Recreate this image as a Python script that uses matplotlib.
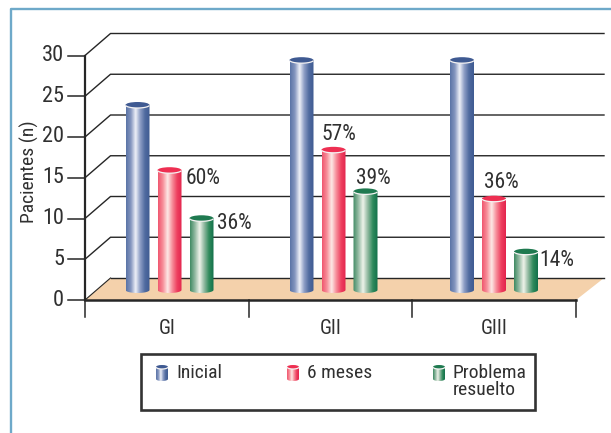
import matplotlib
matplotlib.use("Agg")
import matplotlib.pyplot as plt
import numpy as np
from matplotlib.colors import LinearSegmentedColormap
from matplotlib.patches import Ellipse, PathPatch, Polygon, Rectangle
from matplotlib.path import Path

plt.rcParams["font.family"] = ["Roboto Condensed", "Archivo Narrow", "Liberation Sans", "DejaVu Sans"]

groups = ["GI", "GII", "GIII"]
series = ["Inicial", "6 meses", "Problema\nresuelto"]
inicial = [22.7, 28.2, 28.2]
seis_meses = [14.7, 17.2, 11.2]
resuelto = [8.8, 12.1, 4.7]
pct_seis = ["60%", "57%", "36%"]
pct_resuelto = ["36%", "39%", "14%"]
y_ticks = [0, 5, 10, 15, 20, 25, 30]

# side colours of each cylinder, left to right
blue = ["#5a73a6", "#8496bf", "#eef0f8", "#8c9dc4", "#4f6a9f", "#3f5b92"]
red = ["#f0566f", "#f78d98", "#fde9e6", "#f78d9a", "#ee4060", "#e3244d"]
green = ["#3f8a63", "#90b8a0", "#eef3ea", "#8fb89f", "#2f8a5c", "#12704a"]
tops = ["#3f5a92", "#ee2f52", "#1f7a50"]
text_col = "#303030"
line_col = "#262626"

W, H = 611, 433
fig = plt.figure(figsize=(W / 100, H / 100), dpi=100, facecolor="white")

# overlay in pixel units for the page frame and the legend box
page = fig.add_axes([0, 0, 1, 1])
page.set_xlim(0, W)
page.set_ylim(H, 0)
page.axis("off")
page.plot([11, 11, W], [H, 8.5, 8.5], color="#6ea9c9", lw=1.7)

ax = fig.add_axes([85 / W, (H - 300) / H, 491 / W, 244.5 / H])
ax.set_xlim(0, 3)
ax.set_ylim(0, 30)
ax.axis("off")

px_x = 3 / 491
px_y = 30 / 244.5
depth_x = 25.5 * px_x
depth_y = 22 * px_y


def cylinder(axis, xc, y0, y1, half_w, half_h, colors, top, z=3):
    cmap = LinearSegmentedColormap.from_list("cyl", colors)
    grad = np.linspace(0, 1, 128).reshape(1, -1)
    im = axis.imshow(grad, cmap=cmap, extent=[xc - half_w, xc + half_w, y0 - half_h, y1],
                     aspect="auto", interpolation="bilinear", zorder=z)
    n = 40
    t = np.linspace(np.pi, 2 * np.pi, n)
    verts = [(xc - half_w, y1)] + list(zip(xc + half_w * np.cos(t), y0 + half_h * np.sin(t)))
    verts += [(xc + half_w, y1), (xc - half_w, y1)]
    codes = [Path.MOVETO] + [Path.LINETO] * (len(verts) - 2) + [Path.CLOSEPOLY]
    body = PathPatch(Path(verts, codes), transform=axis.transData, fc="none", ec="none")
    axis.add_patch(body)
    im.set_clip_path(body)
    axis.add_patch(Ellipse((xc, y1), 2 * half_w, 2 * abs(half_h), fc=top, ec="none", zorder=z + 1))
    # light rim under the lid
    t = np.linspace(np.pi * 1.08, np.pi * 1.92, 30)
    axis.plot(xc + half_w * np.cos(t), y1 + half_h * np.sin(t), color="#f4f2f2", lw=0.9,
              zorder=z + 2, solid_capstyle="round")


# floor and receding grid
ax.add_patch(Polygon([(0, 0), (depth_x, depth_y), (3 + 28 * px_x, depth_y), (3, 0)],
                     fc="#f4d1ab", ec="none", zorder=1, clip_on=False))
for v in y_ticks:
    ax.plot([0, depth_x, 3 + 28 * px_x] if v else [depth_x, 3 + 28 * px_x],
            [v, v + depth_y, v + depth_y] if v else [depth_y, depth_y],
            color=line_col, lw=1.0, zorder=2, clip_on=False)
ax.plot([0, depth_x], [0, depth_y], color=line_col, lw=0.8, zorder=2, clip_on=False)

# axes lines and ticks
ax.plot([0, 0], [0, 30], color=line_col, lw=1.6, zorder=6, clip_on=False)
ax.plot([0, 3], [0, 0], color=line_col, lw=1.8, zorder=6, clip_on=False)
for v in y_ticks:
    ax.plot([-17 * px_x, 0], [v, v], color=line_col, lw=1.1, zorder=6, clip_on=False)
    ax.text(-21 * px_x, v, str(v), ha="right", va="center", fontsize=16, color=text_col)
for i in range(4):
    ax.plot([i, i], [0, -17 * px_y], color=line_col, lw=1.1, zorder=6, clip_on=False)
for i, g in enumerate(groups):
    ax.text(i + 0.5, -28 * px_y, g, ha="center", va="center", fontsize=14.5, color=text_col)
ax.text(-56 * px_x, 15.7, "Pacientes (n)", rotation=90, ha="center", va="center",
        fontsize=14, color=text_col)

# cylinders
base = 10 * px_y
half_w = 12 * px_x
half_h = 3 * px_y
group_left = [52.5 * px_x, 216.5 * px_x, 377 * px_x]
step = 32 * px_x
for i in range(3):
    for j, (vals, cols) in enumerate(zip([inicial, seis_meses, resuelto], [blue, red, green])):
        cylinder(ax, group_left[i] + j * step, base, base + vals[i], half_w, half_h, cols, tops[j])

# percentage labels, offsets in points from each bar's top
off_seis = [(24, -6), (4, 11), (5, 11.5)]
off_res = [(24, -4), (5.5, 9), (22, -6)]
for i in range(3):
    x1 = group_left[i] + step
    x2 = group_left[i] + 2 * step
    ax.annotate(pct_seis[i], (x1, base + seis_meses[i]), xytext=off_seis[i], textcoords="offset points",
                ha="center", va="center", fontsize=15.5, color=text_col, zorder=7)
    ax.annotate(pct_resuelto[i], (x2, base + resuelto[i]), xytext=off_res[i], textcoords="offset points",
                ha="center", va="center", fontsize=15.5, color=text_col, zorder=7)

# legend box, y runs downwards here so the lower curve takes a negative half height
page.set_zorder(5)
page.patch.set_alpha(0)
page.add_patch(Rectangle((140.5, 354), 394, 56, fc="white", ec="#333333", lw=1.9))
for x, label, cols, top in zip([162, 293, 439], series, [blue, red, green], tops):
    cylinder(page, x, 379, 367, 6, -2, cols, top)
    page.text(x + 14, 364, label, ha="left", va="top", fontsize=14, color=text_col, linespacing=0.9)
page.set_xlim(0, W)
page.set_ylim(H, 0)

fig.savefig("out.png", dpi=100)
